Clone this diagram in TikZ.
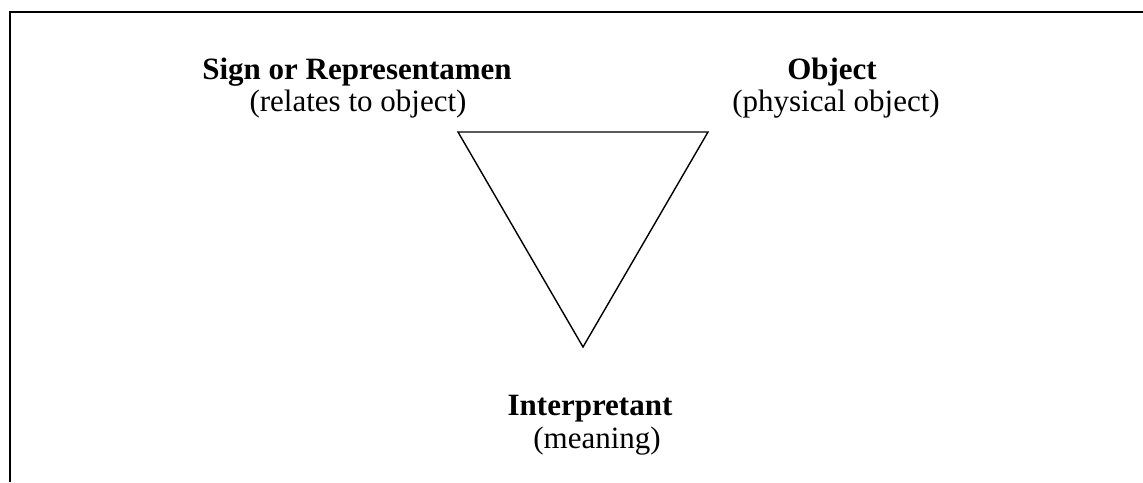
\documentclass[tikz,border=0pt]{standalone}
\usepackage{fontspec}
\setmainfont{Liberation Serif}
\usepackage{tikz}
\usetikzlibrary{positioning}
\tikzset{
  triadname/.style={anchor=base,inner sep=0pt,font=\fontsize{31}{35}\selectfont\bfseries},
  triadnote/.style={anchor=base,inner sep=0pt,font=\fontsize{31}{35}\selectfont},
  triadedge/.style={draw=black,line width=1.4pt,line join=miter},
  frameline/.style={draw=black,line width=2.2pt}
}
\begin{document}
\begin{tikzpicture}[x=1pt,y=-1pt]
  \useasboundingbox (0,0) rectangle (1143,482);
  % open frame: top and left side only
  \draw[frameline] (10,482) -- (10,12) -- (1143,12);
  % corners of the triad
  \coordinate (repr) at (458,132);
  \coordinate (obj) at (708,132);
  \coordinate (interp) at (583,347);
  \draw[triadedge] (repr) -- (obj) -- (interp) -- cycle;
  % labels
  \node[triadname] (reprname) at (357,79) {Sign or Representamen};
  \node[triadnote] (reprnote) at (358,111) {(relates to object)};
  \node[triadname] (objname) at (832,79) {Object};
  \node[triadnote] (objnote) at (836,111) {(physical object)};
  \node[triadname] (interpname) at (590,415) {Interpretant};
  \node[triadnote] (interpnote) at (597,448) {(meaning)};
\end{tikzpicture}
\end{document}
